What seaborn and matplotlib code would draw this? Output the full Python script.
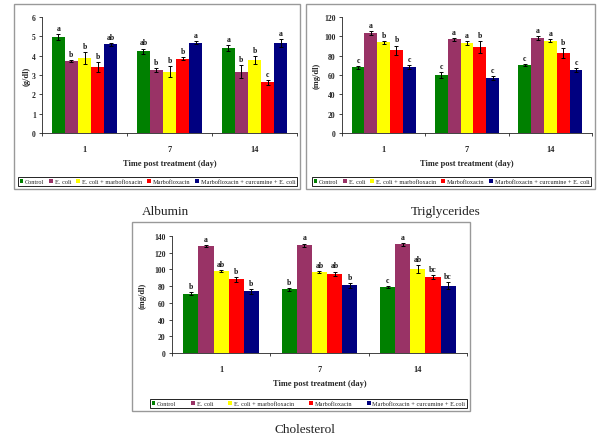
import numpy as np
import pandas as pd
import matplotlib
matplotlib.use("Agg")
import matplotlib.pyplot as plt
from matplotlib.patches import Patch, Rectangle
import seaborn as sns

sns.set_style("ticks")
plt.rcParams['font.family'] = ['Liberation Serif', 'DejaVu Serif']

# data
days = ["1", "7", "14"]
groups = ["Control", "E. coli", "E. coli + marbofloxacin", "Marbofloxacin",
          "Marbofloxacin + curcumine + E. coli"]
colors = ["#008000", "#993366", "#FFFF00", "#FF0000", "#000080"]

# rows = groups, columns = days
alb_mean = [[4.95, 4.22, 4.38], [3.72, 3.28, 3.18], [3.88, 3.18, 3.78],
            [3.40, 3.85, 2.62], [4.58, 4.68, 4.65]]
alb_err = [[0.15, 0.15, 0.15], [0.05, 0.10, 0.35], [0.30, 0.30, 0.20],
           [0.25, 0.08, 0.12], [0.07, 0.07, 0.20]]
alb_sig = [["a", "ab", "a"], ["b", "b", "b"], ["b", "b", "b"],
           ["b", "b", "c"], ["ab", "a", "a"]]

tg_mean = [[68, 60, 70.5], [103.5, 97, 98.5], [94, 93, 95.5],
           [85.5, 89, 83], [68, 57, 65]]
tg_err = [[1.5, 3.5, 1.0], [2.0, 1.5, 2.0], [1.5, 2.0, 1.5],
          [5.0, 6.0, 5.0], [2.0, 2.0, 2.0]]
tg_sig = [["c", "c", "c"], ["a", "a", "a"], ["b", "a", "a"],
          ["b", "b", "b"], ["c", "c", "c"]]

chol_mean = [[71, 76, 79], [128, 129, 130], [98, 97, 100.5],
             [88, 95, 90.5], [74, 81, 80.5]]
chol_err = [[1.5, 1.5, 1.5], [1.5, 2.0, 1.5], [1.5, 1.5, 5.0],
            [2.5, 2.5, 2.5], [3.0, 3.0, 4.0]]
chol_sig = [["b", "b", "c"], ["a", "a", "a"], ["ab", "ab", "ab"],
            ["b", "ab", "bc"], ["b", "b", "bc"]]

W, H = 598, 439
fig = plt.figure(figsize=(W / 100, H / 100), dpi=100)


def fx(px):
    return px / W


def fy(py):
    return 1 - py / H


def panel(x0, x1, y0, ytop, means, errs, sigs, ymax, ystep, ylabel,
          ylab_x, frame, leg_box, leg_labels):
    # gray frame around each panel
    fx0, fy0, fx1, fy1 = frame
    fig.patches.append(Rectangle((fx(fx0), fy(fy1)), fx(fx1 - fx0), (fy1 - fy0) / H,
                                 transform=fig.transFigure, fill=False,
                                 edgecolor="#999999", lw=1.0))

    ax = fig.add_axes([fx(x0), fy(y0), fx(x1 - x0), (y0 - ytop) / H])
    df = pd.DataFrame({
        "day": np.repeat([days], len(groups), axis=0).ravel(),
        "group": np.repeat(groups, len(days)),
        "value": np.ravel(means),
    })
    sns.barplot(data=df, x="day", y="value", hue="group", order=days,
                hue_order=groups, palette=colors, saturation=1, width=0.77,
                gap=0, errorbar=None, legend=False, linewidth=0, ax=ax)

    bar_conts = list(ax.containers)
    for gi, cont in enumerate(bar_conts):
        for di, bar in enumerate(cont.patches):
            xc = bar.get_x() + bar.get_width() / 2
            top = means[gi][di] + errs[gi][di]
            ax.errorbar(xc, means[gi][di], yerr=errs[gi][di], color="black",
                        lw=0.7, capsize=1.6, capthick=0.7)
            ax.annotate(sigs[gi][di], (xc, top), xytext=(0, 1.5),
                        textcoords="offset points", ha="center", va="bottom",
                        fontsize=5.5, fontweight="bold", color="#111111")

    ax.set_xlim(-0.5, 2.5)
    ax.set_ylim(0, ymax)
    ax.set_yticks(np.arange(0, ymax + ystep / 2, ystep))
    ax.set_yticklabels([str(int(round(v))) for v in ax.get_yticks()])
    ax.set_xticks(range(3))
    ax.set_xticklabels(days)
    ax.set_xticks([-0.5, 0.5, 1.5, 2.5], minor=True)
    ax.tick_params(axis="x", which="major", length=0, pad=9, labelsize=6)
    ax.tick_params(axis="x", which="minor", length=2, width=0.6)
    ax.tick_params(axis="y", length=2.5, width=0.6, pad=2, labelsize=5.5)
    for lab in ax.get_xticklabels() + ax.get_yticklabels():
        lab.set_fontweight("bold")
    ax.set_xlabel("")
    ax.set_ylabel("")
    sns.despine(ax=ax)
    for s in ("left", "bottom"):
        ax.spines[s].set_linewidth(0.6)
        ax.spines[s].set_color("#222222")

    fig.text(fx(ylab_x), fy((y0 + ytop) / 2), ylabel, rotation=90,
             ha="center", va="center", fontsize=6, fontweight="bold")
    fig.text(fx((x0 + x1) / 2), fy(y0 + 30), "Time post treatment (day)",
             ha="center", va="center", fontsize=6, fontweight="bold")

    lx0, ly0, lx1, ly1 = leg_box
    handles = [Patch(facecolor=c, edgecolor="none") for c in colors]
    fig.legend(handles, leg_labels, loc="center",
               bbox_to_anchor=(fx(lx0), fy(ly1), fx(lx1 - lx0), (ly1 - ly0) / H),
               bbox_transform=fig.transFigure, mode="expand", ncol=5,
               fontsize=4.5, frameon=True, fancybox=False, edgecolor="black",
               framealpha=1, borderpad=0.25, handlelength=0.6,
               handleheight=0.6, handletextpad=0.3, columnspacing=0.8,
               borderaxespad=0).get_frame().set_linewidth(0.6)
    return ax


panel(42, 297, 134, 18, alb_mean, alb_err, alb_sig, 6, 1.0, "(g/dl)", 27,
      (14, 5, 300, 190), (18, 178, 297, 187), groups)
panel(342, 592, 134, 18, tg_mean, tg_err, tg_sig, 120, 20, "(mg/dl)", 317,
      (306, 5, 595, 190), (312, 178, 591, 187), groups)
panel(172, 467, 354, 237, chol_mean, chol_err, chol_sig, 140, 20, "(mg/dl)", 143,
      (132, 223, 470, 412), (150, 400, 467, 409),
      groups[:4] + ["Marbofloxacin + curcumine + E.coli"])

fig.text(fx(165), fy(212), "Albumin", ha="center", va="center", fontsize=9.5,
         color="#222222")
fig.text(fx(446), fy(212), "Triglycerides", ha="center", va="center",
         fontsize=9.5, color="#222222")
fig.text(fx(305), fy(430), "Cholesterol", ha="center", va="center",
         fontsize=9.5, color="#222222")

fig.savefig("out.png", dpi=100)
